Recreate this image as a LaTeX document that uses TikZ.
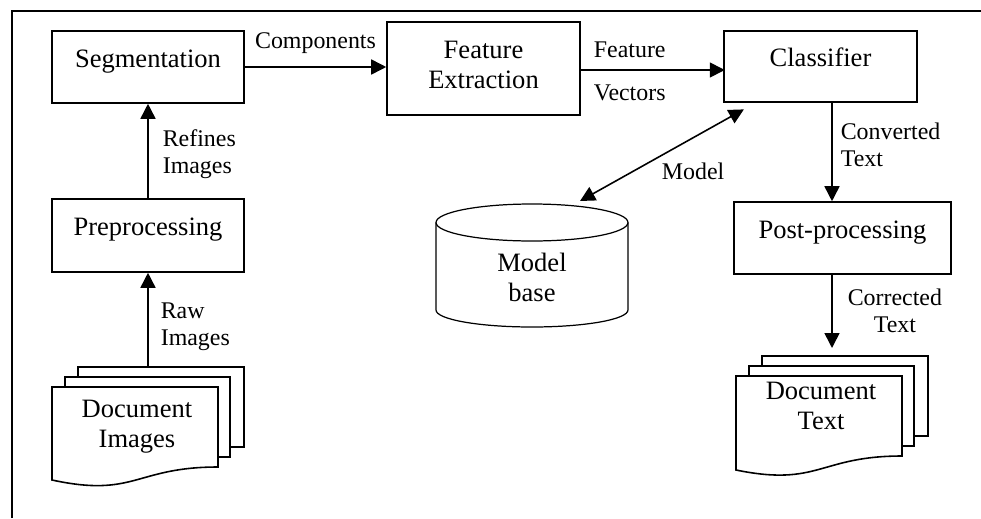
\documentclass[tikz,border=0pt]{standalone}
\usepackage{fontspec}
\setmainfont{Liberation Serif}
\usetikzlibrary{arrows.meta}
\newcommand{\boxfont}{\fontsize{15.1pt}{17.1pt}\selectfont}
\newcommand{\lblfont}{\fontsize{13.6pt}{15.5pt}\selectfont}
\begin{document}
\begin{tikzpicture}[x=0.02cm, y=-0.02cm,
    >={Triangle[length=0.3cm, width=0.3cm]},
    box/.style={draw, line width=0.9pt, font=\boxfont, align=center, inner sep=0pt},
    oneline/.style={text height=0pt, text depth=0pt},
    page/.style={draw, fill=white, line width=0.9pt},
    txt/.style={font=\boxfont, align=center, inner sep=0pt},
    lbl/.style={font=\lblfont, align=left, inner sep=2pt},
    arr/.style={line width=0.9pt, ->},
  ]
  \useasboundingbox (0,0) rectangle (981,518);
  % FRAME (left and top edges only)
  \draw[line width=0.9pt] (12,518) -- (12,11) -- (981,11);

  % BOXES
  \node[box, oneline, minimum width=3.84cm, minimum height=1.44cm] (seg)  at (148,67)    {Segmentation};
  \node[box, text depth=0.16cm, minimum width=3.86cm, minimum height=1.86cm] (feat) at (483.5,68.5) {Feature\\Extraction};
  \node[box, oneline, minimum width=3.86cm, minimum height=1.42cm] (cls)  at (820.5,66.5) {Classifier};
  \node[box, oneline, minimum width=3.84cm, minimum height=1.46cm] (pre)  at (148,235.5) {Preprocessing};
  \node[box, oneline, minimum width=4.34cm, minimum height=1.44cm] (post) at (842.5,238)  {Post-processing};

  % MODEL BASE (cylinder)
  \draw[line width=0.7pt, fill=white] (436,222.5) -- (436,310)
    arc[start angle=180, end angle=360, x radius=1.92cm, y radius=0.34cm] -- (628,222.5);
  \draw[line width=0.7pt] (532,222.5) ellipse[x radius=1.92cm, y radius=0.37cm];
  \node[txt] (mb) at (532,277) {Model\\base};
  \coordinate (mb-top) at (580,201);

  % DOCUMENT IMAGES (stack of pages)
  \draw[page] (78,367) rectangle (244,447);
  \draw[page] (65,377) rectangle (230,457);
  \draw[page] (52,387) -- (218,387) -- (218,467)
    .. controls (135,467) and (135,498) .. (52,480) -- cycle;
  \node[txt] (docimg) at (137,427) {Document\\Images};
  \coordinate (docimg-top) at (148,367);

  % DOCUMENT TEXT (stack of pages)
  \draw[page] (762,356) rectangle (928,436);
  \draw[page] (749,366) rectangle (914,446);
  \draw[page] (736,376) -- (902,376) -- (902,456)
    .. controls (819,456) and (819,487) .. (736,470) -- cycle;
  \node[txt] (doctxt) at (821,406) {Document\\Text};
  \coordinate (doctxt-top) at (832,356);

  % ARROWS
  \draw[arr] (seg.east) -- (seg.east -| feat.west)
    node[lbl, midway, above=0.19cm] {Components};
  \draw[arr] ([yshift=-0.03cm]feat.east) -- +(144,0)
    node[lbl, pos=0.34, above=0.16cm] {Feature}
    node[lbl, pos=0.34, below=0.22cm] {Vectors};
  \draw[arr] (pre.north) -- (seg.south)
    node[lbl, pos=0.47, right=0.21cm] {Refines\\Images};
  \draw[arr] (docimg-top) -- (pre.south)
    node[lbl, pos=0.43, right=0.17cm] {Raw\\Images};
  \draw[arr] (cls.south -| doctxt-top) -- (post.north -| doctxt-top)
    node[lbl, pos=0.43, right=0.09cm] {Converted\\Text};
  \draw[arr, shorten >=0.16cm] (post.south -| doctxt-top) -- (doctxt-top)
    node[lbl, align=center, pos=0.44, right=0.23cm] {Corrected\\Text};
  \draw[line width=0.9pt, <->, shorten >=0.27cm] (mb-top) -- (cls)
    node[lbl, pos=0.644, below=0.42cm] {Model};
\end{tikzpicture}
\end{document}
